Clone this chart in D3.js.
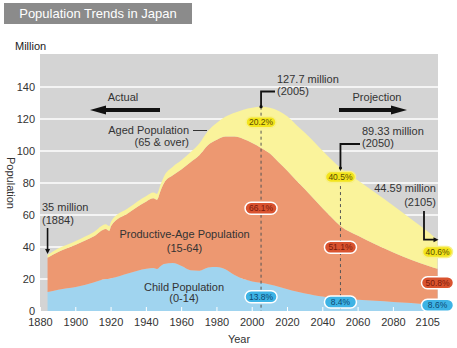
<!DOCTYPE html>
<html>
<head>
<meta charset="utf-8">
<script src="https://cdn.jsdelivr.net/npm/d3@7"></script>
<style>
  html, body { margin: 0; padding: 0; background: #fff; }
  svg { display: block; font-family: "Liberation Sans", Arial, Helvetica, sans-serif; }
</style>
</head>
<body>
<div id="chart"></div>
<script>
// population of Japan by age group, millions (actual to 2005, projected after)
const years      = [1884, 1890, 1900, 1910, 1917, 1919, 1920, 1930, 1940, 1944, 1946, 1948, 1950, 1955, 1960, 1965, 1970, 1975, 1980, 1985, 1990, 1995, 2000, 2005, 2010, 2015, 2020, 2025, 2030, 2035, 2040, 2045, 2050, 2060, 2070, 2080, 2090, 2100, 2105]
const child      = [11.8, 13.3, 15.0, 17.8, 20.0, 20.2, 20.4, 23.6, 26.4, 26.8, 26.3, 28.0, 29.4, 30.0, 28.1, 25.5, 25.2, 27.2, 27.5, 26.0, 22.5, 20.0, 18.5, 17.60, 16.6, 15.2, 13.6, 12.2, 10.9, 9.9, 9.0, 8.2, 7.50, 7.0, 6.4, 5.7, 5.0, 4.2, 3.83]
const productive = [21.5, 23.5, 26.4, 28.7, 31.3, 29.9, 32.7, 37.8, 42.1, 43.6, 43.2, 47.0, 50.6, 54.8, 60.5, 67.5, 72.2, 76.5, 79.5, 83.0, 86.5, 87.5, 86.5, 84.35, 81.9, 77.8, 73.9, 69.3, 65.1, 60.1, 55.0, 50.3, 45.65, 40.0, 35.1, 30.8, 27.0, 24.0, 22.65]
const aged       = [1.7, 2.2, 2.4, 2.7, 2.9, 2.9, 2.9, 3.1, 3.4, 3.6, 3.7, 3.9, 4.1, 5.3, 5.7, 6.2, 7.3, 8.9, 10.6, 12.5, 14.9, 18.3, 22.0, 25.75, 28.5, 32.0, 34.0, 34.8, 35.2, 35.8, 36.0, 36.0, 36.18, 34.5, 32.3, 29.3, 25.5, 21.0, 18.11]

const yTicks = [0, 20, 40, 60, 80, 100, 120, 140]
const xTicks = [1880, 1900, 1920, 1940, 1960, 1980, 2000, 2020, 2040, 2060, 2080, 2105]

const W = 457, H = 348
const colors = { child: "#a0d4ef", productive: "#ed9871", aged: "#faf39b" }
const pillStyle = {
	child:      { fill: "#3db3e5", stroke: "#fff", text: "#0e4a72" },
	productive: { fill: "#d9532f", stroke: "#fff", text: "#7a1a0c" },
	aged:       { fill: "#f3e41c", stroke: "#f8f08a", text: "#5a4c00" }
}

const svg = d3.select("#chart").append("svg")
	.attr("width", W)
	.attr("height", H)

const x = d3.scaleLinear().domain([1880, 2105]).range([40.5, 437.5])
const y = d3.scaleLinear().domain([0, 160]).range([311, 55])

// title box
svg.append("rect")
	.attr("x", 4).attr("y", 3).attr("width", 188).attr("height", 21)
	.attr("fill", "#8b8b8b")
svg.append("text")
	.attr("x", 98).attr("y", 18)
	.attr("text-anchor", "middle")
	.attr("font-size", 13)
	.attr("fill", "#fff")
	.text("Population Trends in Japan")

svg.append("text")
	.attr("x", 15).attr("y", 50)
	.attr("font-size", 11)
	.attr("fill", "#222")
	.text("Million")

// plot background + grid
svg.append("rect")
	.attr("x", 40).attr("y", 54).attr("width", 398).attr("height", 311 - 54)
	.attr("fill", "#d4d4d4")

svg.append("g").selectAll("line")
	.data(yTicks.filter(d => d > 0)).join("line")
	.attr("x1", 40).attr("x2", 438)
	.attr("y1", d => y(d)).attr("y2", d => y(d))
	.attr("stroke", "#fff").attr("stroke-width", 1.5)

// stacked areas
const rows = years.map((yr, i) => ({ year: yr, child: child[i], productive: productive[i], aged: aged[i] }))
const series = d3.stack().keys(["child", "productive", "aged"])(rows)
const area = d3.area()
	.x(d => x(d.data.year))
	.y0(d => y(d[0]))
	.y1(d => y(d[1]))
	.curve(d3.curveMonotoneX)

svg.append("g").selectAll("path")
	.data(series).join("path")
	.attr("fill", d => colors[d.key])
	.attr("d", area)

// axis tick marks (white, inside plot) + labels
svg.append("g").selectAll("line")
	.data(xTicks.filter(d => d < 2100)).join("line")
	.attr("x1", d => x(d)).attr("x2", d => x(d))
	.attr("y1", 311).attr("y2", 307)
	.attr("stroke", "#fff").attr("stroke-width", 1)

svg.append("g").selectAll("text")
	.data(xTicks).join("text")
	.attr("x", d => d === 2105 ? x(d) + 2.5 : x(d))
	.attr("y", 326)
	.attr("text-anchor", d => d === 2105 ? "end" : "middle")
	.attr("font-size", 11)
	.attr("fill", "#333")
	.text(d => d)

svg.append("g").selectAll("text")
	.data(yTicks).join("text")
	.attr("x", 35)
	.attr("y", d => y(d))
	.attr("dy", "0.35em")
	.attr("text-anchor", "end")
	.attr("font-size", 11)
	.attr("fill", "#333")
	.text(d => d)

svg.append("text")
	.attr("x", 239).attr("y", 343)
	.attr("text-anchor", "middle")
	.attr("font-size", 11)
	.attr("fill", "#333")
	.text("Year")

svg.append("text")
	.attr("transform", "translate(7,183) rotate(90)")
	.attr("text-anchor", "middle")
	.attr("font-size", 11)
	.attr("fill", "#333")
	.text("Population")

// helpers
const label = (lines, tx, ty, anchor, lh = 12) => {
	const t = svg.append("text")
		.attr("font-size", 11)
		.attr("fill", "#333")
		.attr("text-anchor", anchor || "start")
	lines.forEach((s, i) => t.append("tspan").attr("x", tx).attr("y", ty + i * lh).text(s))
}

const arrow = (x1, x2, cy) => {
	// thick black block arrow pointing from x1 towards x2
	const dir = x2 > x1 ? 1 : -1
	const head = 16, shaft = 2, half = 4.5
	const hx = x2 - dir * head
	svg.append("path")
		.attr("fill", "#111")
		.attr("d", `M${x1},${cy - shaft} L${hx},${cy - shaft} L${hx},${cy - half} L${x2},${cy} L${hx},${cy + half} L${hx},${cy + shaft} L${x1},${cy + shaft} Z`)
}

const pill = (cx, cy, key, txt) => {
	const st = pillStyle[key]
	const w = key === "aged" ? 30 : 32, h = key === "aged" ? 11 : 12
	svg.append("rect")
		.attr("x", cx - w / 2).attr("y", cy - h / 2)
		.attr("width", w).attr("height", h)
		.attr("rx", h / 2)
		.attr("fill", st.fill)
		.attr("stroke", st.stroke)
		.attr("stroke-width", 1.5)
	svg.append("text")
		.attr("x", cx).attr("y", cy)
		.attr("dy", "0.35em")
		.attr("text-anchor", "middle")
		.attr("font-size", 8.5)
		.attr("fill", st.text)
		.text(txt)
}

// Actual / Projection arrows
label(["Actual"], 123, 101, "middle")
arrow(160, 90, 110)
label(["Projection"], 377, 101, "middle")
arrow(339, 407, 110)

// area labels
label(["Aged Population", "(65 & over)"], 189, 134, "end")
svg.append("line")
	.attr("x1", 193).attr("x2", 207).attr("y1", 130.5).attr("y2", 130.5)
	.attr("stroke", "#333").attr("stroke-width", 1)
label(["Productive-Age Population", "(15-64)"], 184.5, 238, "middle", 13.5)
label(["Child Population", "(0-14)"], 184, 290.5, "middle", 11.5)

// totals and shares at called-out years
const totalAt = yr => {
	const i = years.indexOf(yr)
	return { i, total: child[i] + productive[i] + aged[i] }
}
const pct = d3.format(".1%")

// 1884
{
	const { total } = totalAt(1884)
	const cx = x(1884)
	label([`${d3.format(".0f")(total)} million`, "(1884)"], 42, 211, "start", 13)
	svg.append("line")
		.attr("x1", cx).attr("x2", cx).attr("y1", 228).attr("y2", y(total) - 5)
		.attr("stroke", "#111").attr("stroke-width", 1.6)
	svg.append("path")
		.attr("fill", "#111")
		.attr("d", `M${cx - 2.5},${y(total) - 6} L${cx + 2.5},${y(total) - 6} L${cx},${y(total) - 1} Z`)
}

const pillRows = {
	2005: { aged: 118, productive: 64.2, child: 8.9 },
	2050: { aged: 83.75, productive: 39.8, child: 5.6 },
	2105: { aged: 36.9, productive: 17.7, child: 3.6 }
}

// 2005 peak
{
	const { total } = totalAt(2005)
	const cx = x(2005)
	label([`${d3.format(".1f")(total)} million`, "(2005)"], 277, 83, "start", 12)
	svg.append("line")
		.attr("x1", cx).attr("x2", cx).attr("y1", y(total)).attr("y2", 311)
		.attr("stroke", "#555").attr("stroke-width", 1).attr("stroke-dasharray", "3,3")
	svg.append("path")
		.attr("fill", "none").attr("stroke", "#111").attr("stroke-width", 1.8)
		.attr("d", `M275,91.5 L${cx},91.5 L${cx},${y(total)}`)
	svg.append("circle").attr("cx", cx).attr("cy", y(total)).attr("r", 1.6).attr("fill", "#111")
}

// 2050
{
	const { total } = totalAt(2050)
	const cx = x(2050)
	label([`${d3.format(".2f")(total)} million`, "(2050)"], 362, 135, "start", 12)
	svg.append("line")
		.attr("x1", cx).attr("x2", cx).attr("y1", y(total)).attr("y2", 311)
		.attr("stroke", "#555").attr("stroke-width", 1).attr("stroke-dasharray", "3,3")
	svg.append("path")
		.attr("fill", "none").attr("stroke", "#111").attr("stroke-width", 1.8)
		.attr("d", `M360,144 L${cx},144 L${cx},${y(total)}`)
	svg.append("circle").attr("cx", cx).attr("cy", y(total)).attr("r", 1.6).attr("fill", "#111")
}

// 2105
{
	const { total } = totalAt(2105)
	const cx = x(2105)
	label([`${d3.format(".2f")(total)} million`, "(2105)"], 436, 192, "end", 13.5)
	svg.append("path")
		.attr("fill", "none").attr("stroke", "#111").attr("stroke-width", 1.8)
		.attr("d", `M424,211 L424,${y(total)} L${cx - 2},${y(total)}`)
	svg.append("path")
		.attr("fill", "#111")
		.attr("d", `M${cx - 4},${y(total) - 2.5} L${cx + 1},${y(total)} L${cx - 4},${y(total) + 2.5} Z`)
}

// share pills
Object.entries(pillRows).forEach(([yr, pos]) => {
	const { i, total } = totalAt(+yr)
	const vals = { child: child[i], productive: productive[i], aged: aged[i] }
	Object.keys(pos).forEach(k => pill(x(+yr), y(pos[k]), k, pct(vals[k] / total)))
})
</script>
</body>
</html>
